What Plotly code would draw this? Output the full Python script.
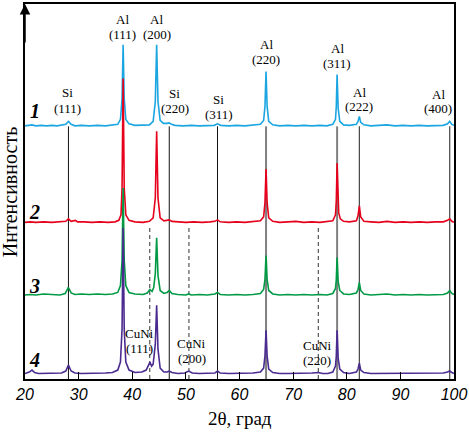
import plotly.graph_objects as go

# ---------------- data ----------------
# intensities are heights above each pattern's own baseline (arbitrary units)
curve1_points = [(20.0,0.5),(20.8,1.0),(21.3,1.5),(22.0,0.5),(23.0,1.0),(24.0,0.5),(25.0,1.0),(26.0,0.5),(27.0,1.0),(27.6,2.0),(28.1,5.0),(28.6,2.0),(29.3,0.5),(30.5,1.0),(32.0,0.5),(33.5,1.0),(35.0,0.5),(36.3,1.0),(37.3,2.0),(37.8,7.0),(38.1,28.0),(38.3,82.0),(38.5,28.0),(38.8,7.0),(39.4,2.5),(40.5,1.0),(42.0,1.0),(43.2,1.5),(43.9,5.0),(44.3,25.0),(44.55,82.0),(44.8,25.0),(45.2,6.0),(45.8,3.0),(46.5,3.0),(46.9,3.5),(47.3,2.0),(48.0,1.0),(49.5,0.5),(51.0,1.0),(52.5,0.5),(54.0,1.0),(55.3,1.0),(55.9,2.5),(56.5,1.0),(58.0,0.5),(59.5,1.0),(61.0,0.5),(62.5,1.0),(63.9,2.0),(64.5,6.0),(64.75,20.0),(64.95,55.0),(65.15,20.0),(65.45,5.0),(66.2,1.5),(67.5,0.5),(69.0,1.0),(70.5,0.5),(72.0,1.0),(73.5,0.5),(75.0,1.0),(76.3,0.5),(77.4,2.0),(77.9,7.0),(78.05,20.0),(78.2,52.0),(78.4,18.0),(78.7,5.0),(79.4,1.5),(80.5,1.0),(81.8,2.0),(82.1,5.0),(82.35,10.0),(82.6,4.0),(83.2,1.5),(84.5,0.5),(86.0,1.0),(87.5,1.5),(89.0,0.5),(90.5,1.0),(92.0,0.5),(93.5,1.0),(95.0,0.5),(96.5,1.0),(98.0,1.0),(98.8,2.5),(99.2,5.0),(99.6,2.0),(100.0,1.0)]

curve2_points = [(20.0,0.5),(21.0,1.0),(22.0,0.5),(23.5,1.0),(25.0,0.5),(26.5,1.0),(27.6,1.5),(28.1,4.0),(28.6,1.5),(29.4,2.5),(29.8,1.0),(31.0,1.0),(32.5,0.5),(34.0,1.0),(35.5,0.5),(36.8,1.0),(37.5,2.5),(37.9,8.0),(38.1,35.0),(38.3,145.0),(38.5,35.0),(38.8,8.0),(39.4,2.5),(40.5,1.0),(42.0,0.5),(43.2,1.5),(43.9,5.0),(44.3,25.0),(44.55,92.0),(44.8,25.0),(45.2,5.0),(45.9,2.0),(46.6,2.5),(46.9,3.0),(47.4,1.5),(48.5,1.0),(50.0,0.5),(51.5,1.0),(53.0,0.5),(54.5,1.0),(55.4,1.5),(55.9,3.0),(56.4,1.0),(58.0,0.5),(59.5,1.0),(61.0,0.5),(62.5,1.0),(63.9,2.0),(64.5,6.0),(64.75,20.0),(64.95,54.0),(65.15,20.0),(65.45,5.0),(66.2,1.5),(67.5,0.5),(69.0,1.0),(70.5,1.5),(72.0,0.5),(73.5,1.0),(75.0,0.5),(76.3,1.0),(77.4,2.0),(77.9,8.0),(78.05,22.0),(78.2,60.0),(78.35,24.0),(78.5,10.0),(78.8,4.0),(79.4,1.5),(80.5,1.0),(81.8,2.0),(82.1,7.0),(82.35,17.0),(82.6,6.0),(83.2,1.5),(84.5,1.0),(86.0,0.5),(87.5,1.5),(89.0,0.5),(90.5,1.0),(92.0,0.5),(93.5,1.0),(95.0,0.5),(96.5,1.0),(98.0,1.0),(98.8,2.5),(99.2,4.0),(99.6,1.5),(100.0,0.5)]

curve3_points = [(20.0,0.5),(21.0,1.0),(22.0,0.5),(23.5,1.5),(25.0,1.0),(26.5,0.5),(27.5,2.0),(28.1,8.0),(28.6,2.5),(29.3,1.0),(30.5,1.5),(32.0,1.0),(33.5,1.5),(35.0,1.0),(36.3,1.5),(37.3,3.0),(37.8,10.0),(38.1,35.0),(38.3,108.0),(38.5,35.0),(38.8,10.0),(39.4,3.0),(40.5,1.5),(42.0,1.0),(42.8,2.5),(43.3,6.0),(43.7,4.0),(44.0,8.0),(44.3,22.0),(44.55,58.0),(44.8,20.0),(45.2,5.0),(45.9,2.0),(46.5,3.0),(46.9,5.0),(47.4,2.0),(48.5,1.0),(50.0,0.5),(50.5,1.5),(51.0,0.5),(52.5,1.0),(54.0,0.5),(55.4,1.5),(55.9,3.0),(56.4,1.0),(58.0,0.5),(59.5,1.0),(61.0,0.5),(62.5,1.0),(63.9,2.0),(64.5,6.0),(64.75,16.0),(64.95,40.0),(65.15,16.0),(65.45,5.0),(66.2,1.5),(67.5,0.5),(69.0,1.0),(70.5,0.5),(72.0,1.0),(73.5,0.5),(75.0,1.0),(76.3,0.5),(77.4,2.0),(77.9,7.0),(78.05,16.0),(78.2,38.0),(78.4,14.0),(78.7,5.0),(79.4,1.5),(80.5,1.0),(81.8,2.5),(82.1,6.0),(82.35,13.0),(82.6,5.0),(83.2,1.5),(84.5,0.5),(86.0,1.0),(87.5,1.5),(89.0,0.5),(90.5,1.0),(92.0,0.5),(93.5,1.0),(95.0,0.5),(96.5,1.0),(98.0,1.0),(98.8,2.5),(99.2,5.0),(99.6,2.0),(100.0,1.0)]

curve4_points = [(20.0,0.5),(20.8,2.0),(21.3,4.0),(21.8,1.5),(22.5,0.5),(24.0,0.5),(25.5,0.5),(26.8,1.0),(27.6,3.0),(28.1,9.0),(28.6,3.0),(29.3,1.0),(30.5,0.5),(32.0,0.5),(33.5,0.5),(35.0,1.0),(36.3,1.5),(37.3,4.0),(37.8,12.0),(38.1,45.0),(38.3,147.0),(38.5,45.0),(38.8,12.0),(39.4,4.0),(40.5,1.5),(41.8,2.0),(42.6,4.0),(43.0,8.0),(43.3,12.0),(43.6,8.0),(43.9,10.0),(44.3,30.0),(44.55,69.0),(44.8,25.0),(45.2,6.0),(45.9,2.0),(46.5,2.0),(46.9,3.0),(47.4,1.5),(48.5,0.5),(49.8,1.0),(50.5,3.0),(51.2,1.0),(52.5,0.5),(54.0,0.5),(55.4,1.0),(55.9,3.0),(56.4,1.0),(58.0,0.5),(59.5,0.5),(61.0,0.5),(62.5,1.0),(63.9,2.0),(64.5,6.0),(64.75,18.0),(64.95,44.0),(65.15,18.0),(65.45,5.0),(66.2,1.5),(67.5,0.5),(69.0,0.5),(70.5,0.5),(72.0,0.5),(73.5,1.0),(74.7,1.5),(75.5,0.5),(76.5,0.5),(77.4,2.0),(77.9,8.0),(78.05,18.0),(78.2,44.0),(78.4,16.0),(78.7,5.0),(79.4,1.5),(80.5,0.5),(81.8,2.0),(82.1,5.0),(82.35,11.0),(82.6,4.0),(83.2,1.5),(84.5,0.5),(86.0,0.5),(87.5,1.0),(89.0,0.5),(90.5,0.5),(92.0,0.5),(93.5,0.5),(95.0,0.5),(96.5,0.5),(98.0,1.0),(98.8,2.0),(99.2,3.0),(99.6,1.5),(100.0,0.5)]

curve_names = ["1", "2", "3", "4"]
curve_offsets = [254, 157, 84, 5]          # vertical shift of each pattern

si_lines = [28.1, 46.9, 55.9]               # Si reflections (solid black)
al_lines = [64.95, 78.2, 82.35, 99.2]       # Al reflections (solid grey)
cuni_lines = [43.26, 50.57, 74.7]           # CuNi reflections (dashed)

phase_labels = ["Si", "Al", "Al", "Si", "Si", "Al", "Al", "Al", "Al", "CuNi", "CuNi", "CuNi"]
hkl_labels = ["(111)", "(111)", "(200)", "(220)", "(311)", "(220)", "(311)", "(222)", "(400)", "(111)", "(200)", "(220)"]
x_ticks = [20, 30, 40, 50, 60, 70, 80, 90, 100]

# ---------------- layout / style ----------------
colors = ["#1CA6E1", "#E6001B", "#009A45", "#4A2B8F"]
label_x = [28.0, 38.23, 44.56, 47.9, 56.09, 65.02, 78.23, 82.33, 97.02, 41.4, 51.07, 74.51]
label_top_y = [288, 361, 361, 287, 281, 336, 332, 288, 286, 46, 36, 34]
label_hkl_y = [272, 346, 346, 272, 266, 321, 317, 274, 272, 31, 21, 19]
curve_label_y = [269, 168, 94, 19]

fig = go.Figure()
for pts, off, col, name in zip([curve1_points, curve2_points, curve3_points, curve4_points],
                               curve_offsets, colors, curve_names):
    xs = [p[0] for p in pts]
    ys = [p[1] + off for p in pts]
    fig.add_trace(go.Scatter(x=xs, y=ys, mode="lines", name=name,
                             line=dict(color=col, width=1.6), showlegend=False,
                             hoverinfo="skip"))

shapes = []
for xv in si_lines:
    shapes.append(dict(type="line", xref="x", yref="y", x0=xv, x1=xv, y0=0, y1=254,
                       line=dict(color="#111111", width=1), layer="below"))
for i, xv in enumerate(al_lines):
    w = 2 if i < 2 else 1.2
    c = "#808080" if i < 2 else "#444444"
    shapes.append(dict(type="line", xref="x", yref="y", x0=xv, x1=xv, y0=0, y1=254,
                       line=dict(color=c, width=w), layer="below"))
for xv in cuni_lines:
    shapes.append(dict(type="line", xref="x", yref="y", x0=xv, x1=xv, y0=0, y1=154,
                       line=dict(color="#555555", width=1.2, dash="4px,3px"), layer="below"))

serif = "Liberation Serif, Times New Roman, serif"
ann = []
for t, h, lx, ty, hy in zip(phase_labels, hkl_labels, label_x, label_top_y, label_hkl_y):
    ann.append(dict(x=lx, y=ty, xref="x", yref="y", text=t, showarrow=False,
                    font=dict(family=serif, size=13, color="black"), xanchor="center", yanchor="middle"))
    ann.append(dict(x=lx, y=hy, xref="x", yref="y", text=h, showarrow=False,
                    font=dict(family=serif, size=13, color="black"), xanchor="center", yanchor="middle"))
for name, cy in zip(curve_names, curve_label_y):
    ann.append(dict(x=21.86, y=cy, xref="x", yref="y", text=name, showarrow=False,
                    font=dict(family=serif, size=20, color="black", weight="bold", style="italic"),
                    xanchor="center", yanchor="middle"))
# axis titles
ann.append(dict(x=-0.036, y=0.497, xref="paper", yref="paper", text="Интенсивность", textangle=-90,
                showarrow=False, font=dict(family=serif, size=20, color="black"),
                xanchor="center", yanchor="middle"))
ann.append(dict(x=0.5, y=-0.105, xref="paper", yref="paper", text="2θ, град",
                showarrow=False, font=dict(family=serif, size=19, color="black"),
                xanchor="center", yanchor="middle"))
# arrow on the intensity axis
ann.append(dict(x=0, y=1, xref="paper", yref="paper", ax=0, ay=40, axref="pixel", ayref="pixel",
                text="", showarrow=True, arrowhead=2, arrowsize=1.4, arrowwidth=1.5, arrowcolor="black"))

fig.update_layout(
    width=469, height=438,
    margin=dict(l=25, r=14, t=2, b=59),
    paper_bgcolor="white", plot_bgcolor="white",
    shapes=shapes, annotations=ann,
    xaxis=dict(range=[20, 100], tickvals=x_ticks, ticktext=[str(v) for v in x_ticks],
               ticks="inside", ticklen=7, tickwidth=1.3, tickcolor="black",
               showline=True, linecolor="black", linewidth=1.5, mirror=True,
               showgrid=False, zeroline=False, ticklabeloverflow="allow",
               tickfont=dict(family="Liberation Sans, Arial, sans-serif", size=16, color="black",
                             style="italic")),
    yaxis=dict(range=[0, 377], showticklabels=False, ticks="",
               showline=True, linecolor="black", linewidth=1.5, mirror=True,
               showgrid=False, zeroline=False),
)

fig.write_html("out.html")
